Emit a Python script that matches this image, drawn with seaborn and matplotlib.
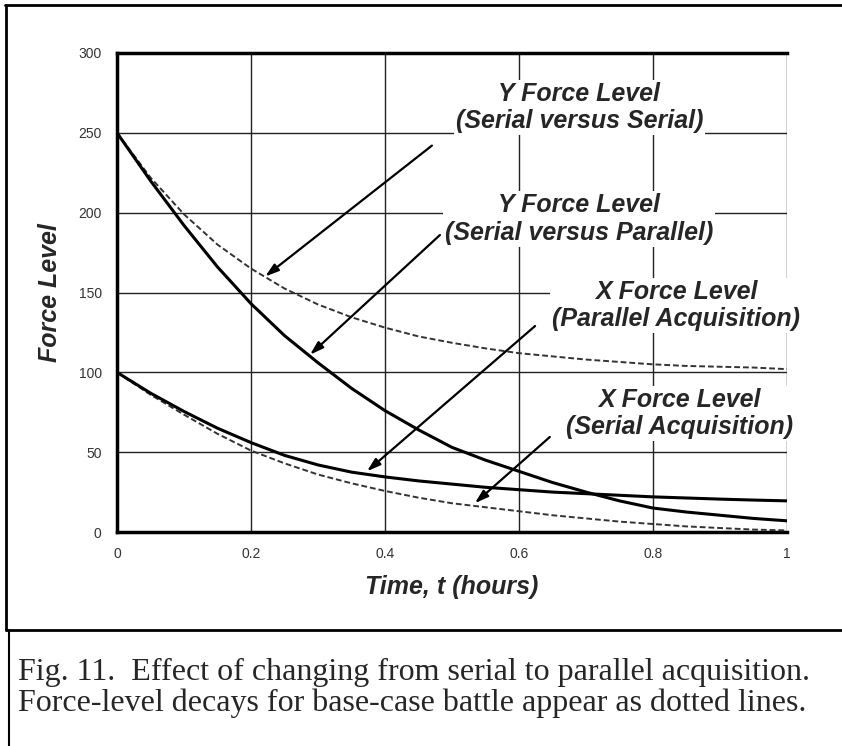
import numpy as np
import pandas as pd
import matplotlib
matplotlib.use("Agg")
import matplotlib.pyplot as plt
from matplotlib.lines import Line2D
import seaborn as sns

# time axis (hours)
t = [0.0, 0.05, 0.1, 0.15, 0.2, 0.25, 0.3, 0.35, 0.4, 0.45, 0.5,
     0.55, 0.6, 0.65, 0.7, 0.75, 0.8, 0.85, 0.9, 0.95, 1.0]

# base case (dotted)
y_serial_serial = [250, 222, 199, 180, 165, 152.5, 142.5, 134.5, 128, 122.5, 118.5,
                   115, 112, 110, 108, 106.5, 105, 104, 103.5, 103, 102]
x_serial = [100, 86, 73.5, 61.5, 51, 43, 36, 30.5, 25.7, 21.5, 18,
            15.5, 13, 10.5, 8.5, 6.5, 5, 3.5, 2.5, 1.5, 1]

# parallel acquisition (solid)
y_serial_parallel = [250, 220, 192, 166, 143, 123, 106, 90, 76, 64, 53,
                     45, 38, 31, 25, 19.5, 15, 12.5, 10.5, 8.5, 7]
x_parallel = [100, 87, 75.5, 65, 56, 48, 42, 37.5, 34.5, 32, 30,
              28, 26.5, 25, 24, 23, 22, 21.3, 20.6, 20, 19.5]

labels = ["Y Force Level\n(Serial versus Serial)",
          "Y Force Level\n(Serial versus Parallel)",
          "X Force Level\n(Parallel Acquisition)",
          "X Force Level\n(Serial Acquisition)"]
label_pos = [(0.69, 266), (0.69, 196), (0.835, 142), (0.84, 74)]
arrow_from = [(0.47, 242), (0.482, 186), (0.624, 129), (0.646, 59.5)]
arrow_to = [(0.221, 160), (0.288, 111), (0.373, 38), (0.534, 18)]

caption = ("Fig. 11.  Effect of changing from serial to parallel acquisition.\n"
           "Force-level decays for base-case battle appear as dotted lines.")

sns.set_style("white")
plt.rcParams['font.family'] = ['Liberation Sans', 'DejaVu Sans']

fig = plt.figure(figsize=(8.42, 7.46), dpi=100)
ax = fig.add_axes([117/842, 1-532/746, 670/842, 479/746])

solid = dict(color="black", lw=2.2, zorder=4)
dotted = dict(color="#333333", lw=1.4, linestyle=(0, (3, 1.5)), zorder=4)

sns.lineplot(x=t, y=y_serial_serial, ax=ax, **dotted)
sns.lineplot(x=t, y=x_serial, ax=ax, **dotted)
sns.lineplot(x=t, y=y_serial_parallel, ax=ax, **solid)
sns.lineplot(x=t, y=x_parallel, ax=ax, **solid)

ax.set_xlim(0, 1)
ax.set_ylim(0, 300)
ax.set_xticks([0, 0.2, 0.4, 0.6, 0.8, 1])
ax.set_xticklabels(["0", "0.2", "0.4", "0.6", "0.8", "1"])
ax.set_yticks(range(0, 301, 50))
ax.grid(True, color="#222222", lw=1.0, zorder=0)
ax.set_axisbelow(True)
for side in ["left", "bottom", "top"]:
    ax.spines[side].set_linewidth(2.5)
    ax.spines[side].set_color("black")
ax.spines["right"].set_visible(False)
ax.tick_params(axis="both", direction="out", length=4, width=1, colors="black",
               labelsize=10, labelcolor="#333333", pad=7)

ax.set_xlabel("Time, t (hours)", fontsize=18, fontweight="bold", style="italic", labelpad=10)
ax.set_ylabel("Force Level", fontsize=18, fontweight="bold", style="italic", labelpad=12)

box = dict(facecolor="white", edgecolor="none", pad=1.5)
for txt, pos in zip(labels, label_pos):
    ax.text(pos[0], pos[1], txt, ha="center", va="center", fontsize=18,
            fontweight="bold", style="italic", linespacing=1.17, zorder=3,
            bbox=box, clip_on=False)

for a, b in zip(arrow_from, arrow_to):
    ax.annotate("", xy=b, xytext=a, zorder=5,
                arrowprops=dict(arrowstyle="-|>,head_length=0.8,head_width=0.25",
                                color="black", lw=1.6, shrinkA=0, shrinkB=0))

# frame boxes around figure and caption
fig.add_artist(Line2D([5/842, 1.0], [1-5/746, 1-5/746], color="black", lw=2))
fig.add_artist(Line2D([6/842, 6/842], [1-5/746, 1-630/746], color="black", lw=2))
fig.add_artist(Line2D([6/842, 1.0], [1-630/746, 1-630/746], color="black", lw=2))
fig.add_artist(Line2D([9/842, 9/842], [1-630/746, 0], color="black", lw=1.5))

fig.text(18/842, 1-688/746, caption, ha="left", va="center", fontsize=23,
         family="Liberation Serif", linespacing=1.05)

fig.savefig("out.png", dpi=100)
